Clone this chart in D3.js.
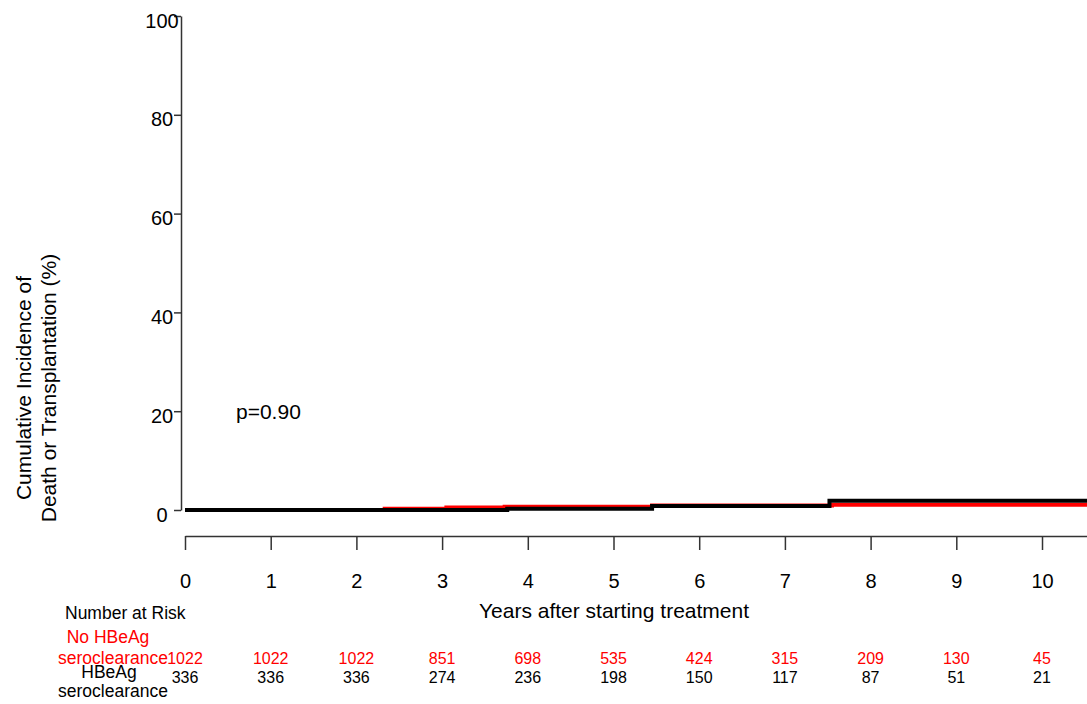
<!DOCTYPE html>
<html>
<head>
<meta charset="utf-8">
<script src="https://cdn.jsdelivr.net/npm/d3@7"></script>
<style>
  html, body { margin: 0; padding: 0; background: #fff; }
  svg { display: block; font-family: "Liberation Sans", Arial, sans-serif; }
</style>
</head>
<body>
<svg id="chart" width="1087" height="704"></svg>
<script>
// Cumulative incidence step curves (years, %)
const noClearanceTimes = [0, 2.33, 3.05, 3.73, 5.45, 7.55];
const noClearanceValues = [0, 0.25, 0.5, 0.65, 0.9, 1.07];
const clearanceTimes = [0, 3.76, 5.45, 7.52];
const clearanceValues = [0, 0.27, 0.82, 1.85];

// Axis ticks
const xTicks = [0, 1, 2, 3, 4, 5, 6, 7, 8, 9, 10];
const yTicks = [0, 20, 40, 60, 80, 100];

// Number at risk at each year
const riskYears = [0, 1, 2, 3, 4, 5, 6, 7, 8, 9, 10];
const riskNoClearance = [1022, 1022, 1022, 851, 698, 535, 424, 315, 209, 130, 45];
const riskClearance = [336, 336, 336, 274, 236, 198, 150, 117, 87, 51, 21];

const RED = "#ff0000";
const BLACK = "#000000";
const AXIS = "#333333";

const svg = d3.select("#chart");

const x = d3.scaleLinear().domain([0, 10.525]).range([185, 1087]);
const y = d3.scaleLinear().domain([0, 100]).range([510, 16]);

// Y axis
const yAxis = svg.append("g")
  .attr("transform", "translate(181,0)")
  .call(d3.axisLeft(y).tickValues(yTicks).tickSize(7).tickSizeOuter(0));
yAxis.select(".domain").attr("stroke", AXIS).attr("stroke-width", 1.5);
yAxis.selectAll(".tick line").attr("stroke", AXIS).attr("stroke-width", 1.5);
yAxis.selectAll(".tick text")
  .attr("x", -19).attr("dy", "0.55em")
  .attr("text-anchor", "middle")
  .attr("fill", "#000")
  .style("font-size", "20px")
  .style("font-family", "'Liberation Sans', Arial, sans-serif");

// X axis (detached below the plot)
const xAxis = svg.append("g")
  .attr("transform", "translate(0,536)")
  .call(d3.axisBottom(x).tickValues(xTicks).tickSize(14).tickSizeOuter(0).tickPadding(24));
xAxis.select(".domain").attr("stroke", AXIS).attr("stroke-width", 1.5);
xAxis.selectAll(".tick line").attr("stroke", AXIS).attr("stroke-width", 1.5);
xAxis.selectAll(".tick text")
  .attr("fill", "#000")
  .style("font-size", "20px")
  .style("font-family", "'Liberation Sans', Arial, sans-serif");

// Step curves
const line = d3.line()
  .x(d => x(d[0]))
  .y(d => y(d[1]))
  .curve(d3.curveStepAfter);

function series(times, values) {
  const pts = times.map((t, i) => [t, values[i]]);
  pts.push([x.domain()[1], values[values.length - 1]]);
  return pts;
}

svg.append("path")
  .attr("d", line(series(noClearanceTimes, noClearanceValues)))
  .attr("fill", "none").attr("stroke", RED).attr("stroke-width", 4);

svg.append("path")
  .attr("d", line(series(clearanceTimes, clearanceValues)))
  .attr("fill", "none").attr("stroke", BLACK).attr("stroke-width", 4);

// Y axis title (two lines)
const yTitle = [["Cumulative Incidence of", 31], ["Death or Transplantation (%)", 56]];
yTitle.forEach(([txt, bx]) => {
  svg.append("text")
    .attr("transform", `translate(${bx},388) rotate(-90)`)
    .attr("text-anchor", "middle")
    .style("font-size", "21px")
    .text(txt);
});

// p-value
svg.append("text")
  .attr("x", 236).attr("y", 419)
  .style("font-size", "21px")
  .text("p=0.90");

// X axis title
svg.append("text")
  .attr("x", 614).attr("y", 618)
  .attr("text-anchor", "middle")
  .style("font-size", "21px")
  .text("Years after starting treatment");

// Number at risk table
svg.append("text").attr("x", 65).attr("y", 619)
  .style("font-size", "17.5px").text("Number at Risk");

svg.append("text").attr("x", 108).attr("y", 643)
  .attr("text-anchor", "middle").attr("fill", RED)
  .style("font-size", "17.5px").text("No HBeAg");
svg.append("text").attr("x", 113).attr("y", 664)
  .attr("text-anchor", "middle").attr("fill", RED)
  .style("font-size", "17.5px").text("seroclearance");
svg.append("text").attr("x", 109).attr("y", 678)
  .attr("text-anchor", "middle").attr("fill", BLACK)
  .style("font-size", "17.5px").text("HBeAg");
svg.append("text").attr("x", 113).attr("y", 697)
  .attr("text-anchor", "middle").attr("fill", BLACK)
  .style("font-size", "17.5px").text("seroclearance");

svg.append("g").selectAll("text")
  .data(riskYears.map((t, i) => [t, riskNoClearance[i]]))
  .join("text")
  .attr("x", d => x(d[0])).attr("y", 664)
  .attr("text-anchor", "middle").attr("fill", RED)
  .style("font-size", "16px")
  .text(d => d[1]);

svg.append("g").selectAll("text")
  .data(riskYears.map((t, i) => [t, riskClearance[i]]))
  .join("text")
  .attr("x", d => x(d[0])).attr("y", 683)
  .attr("text-anchor", "middle").attr("fill", BLACK)
  .style("font-size", "16px")
  .text(d => d[1]);
</script>
</body>
</html>
